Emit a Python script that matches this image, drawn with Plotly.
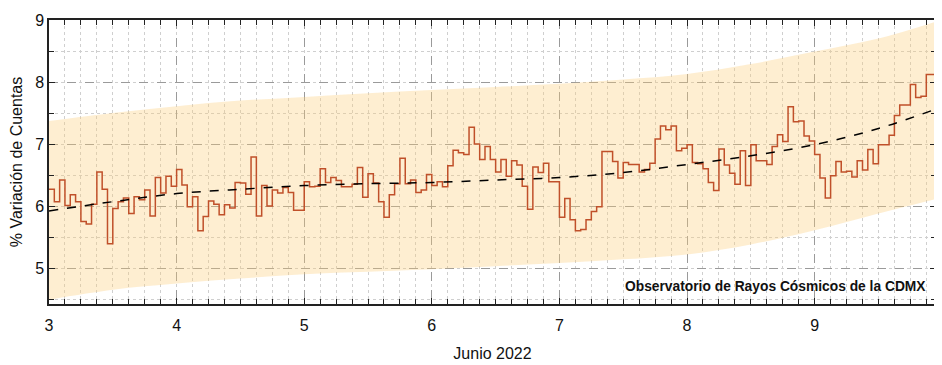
import plotly.graph_objects as go

# Hourly % variation of counts, June 3..9 2022 (24 values per day)
junio_3 = [6.27, 6.07, 6.42, 6.01, 6.18, 6.07, 5.75, 5.71, 6.03, 6.55, 6.27, 5.39,
           5.96, 6.07, 6.13, 5.88, 6.15, 6.10, 6.26, 5.84, 6.46, 6.21, 6.48, 6.32]
junio_4 = [6.59, 6.34, 5.99, 6.15, 5.60, 5.83, 6.08, 6.03, 5.86, 6.02, 5.97, 6.38,
           6.37, 6.19, 6.79, 5.84, 6.33, 6.00, 6.26, 6.21, 6.30, 6.22, 5.93, 5.93]
junio_5 = [6.39, 6.31, 6.32, 6.60, 6.38, 6.46, 6.41, 6.31, 6.31, 6.35, 6.62, 6.14,
           6.52, 6.37, 6.07, 5.82, 6.18, 6.36, 6.77, 6.36, 6.42, 6.22, 6.26, 6.51]
junio_6 = [6.33, 6.39, 6.31, 6.65, 6.90, 6.86, 6.83, 7.27, 7.00, 6.75, 6.96, 6.75,
           6.55, 6.75, 6.48, 6.73, 6.66, 6.32, 5.95, 6.63, 6.54, 6.69, 6.39, 6.39]
junio_7 = [5.82, 6.12, 5.78, 5.60, 5.62, 5.78, 5.91, 5.99, 6.88, 6.88, 6.72, 6.45,
           6.70, 6.67, 6.67, 6.55, 6.59, 6.69, 7.08, 7.29, 7.23, 7.29, 6.89, 6.93]
junio_8 = [6.99, 6.70, 6.68, 6.60, 6.38, 6.25, 6.92, 6.66, 6.53, 6.35, 6.89, 6.33,
           6.99, 6.73, 6.73, 6.67, 6.96, 7.15, 7.04, 7.60, 7.36, 7.37, 7.13, 7.05]
junio_9 = [6.83, 6.45, 6.13, 6.49, 6.72, 6.55, 6.56, 6.47, 6.73, 6.58, 6.91, 6.68,
           6.99, 6.99, 7.14, 7.46, 7.63, 7.63, 7.96, 7.75, 7.77, 8.12, 8.12, 8.12]
dias = [3, 4, 5, 6, 7, 8, 9]

# Trend curve and uncertainty band, read at half-day steps
trend_x = [3.0, 3.5, 4.0, 4.5, 5.0, 5.5, 6.0, 6.5, 7.0, 7.5, 8.0, 8.5, 9.0, 9.5, 9.96]
trend_y = [5.92, 6.07, 6.20, 6.27, 6.33, 6.36, 6.38, 6.42, 6.46, 6.54, 6.67, 6.81, 6.99, 7.25, 7.57]
band_hi = [7.37, 7.50, 7.61, 7.70, 7.76, 7.82, 7.87, 7.92, 7.97, 8.04, 8.13, 8.29, 8.49, 8.70, 8.98]
band_lo = [4.49, 4.65, 4.75, 4.83, 4.90, 4.94, 4.98, 5.03, 5.08, 5.14, 5.22, 5.38, 5.61, 5.88, 6.12]

x_ticks = [3, 4, 5, 6, 7, 8, 9]
y_ticks = [5, 6, 7, 8, 9]

series = [junio_3, junio_4, junio_5, junio_6, junio_7, junio_8, junio_9]
xs, ys = [], []
for d, vals in zip(dias, series):
    for h, v in enumerate(vals):
        xs.append(d + h / 24.0)
        ys.append(v)
xs.append(dias[-1] + 1.0)
ys.append(ys[-1])

FONT = "Liberation Sans, Arial, Helvetica, sans-serif"

fig = go.Figure()
fig.add_trace(go.Scatter(x=trend_x, y=band_lo, mode="lines", line=dict(width=0, shape="spline"),
                         hoverinfo="skip", showlegend=False))
fig.add_trace(go.Scatter(x=trend_x, y=band_hi, mode="lines", line=dict(width=0, shape="spline"),
                         fill="tonexty", fillcolor="rgba(251,205,120,0.34)",
                         hoverinfo="skip", showlegend=False))
fig.add_trace(go.Scatter(x=xs, y=ys, mode="lines", line=dict(color="#C0502A", width=1.5, shape="hv"),
                         showlegend=False))
fig.add_trace(go.Scatter(x=trend_x, y=trend_y, mode="lines",
                         line=dict(color="black", width=1.5, dash="dash", shape="spline"),
                         showlegend=False))

axis_common = dict(
    showline=True, linecolor="#222", linewidth=1.5, mirror="allticks",
    ticks="inside", ticklen=6, tickcolor="#222", tickwidth=1.2,
    showgrid=True, gridcolor="#9a9a9a", griddash="dash", gridwidth=1,
    zeroline=False, automargin=False,
    tickfont=dict(family=FONT, size=16, color="#111"),
)

# the page body adds an 8px offset; figure is sized to land the plot area where the reference has it
fig.update_layout(
    width=934, height=357,
    margin=dict(l=41, r=6, t=12, b=61),
    paper_bgcolor="white", plot_bgcolor="white",
    font=dict(family=FONT, size=16, color="#111"),
    xaxis=dict(range=[3, 9.951], tickvals=x_ticks, ticktext=[str(v) for v in x_ticks],
               ticklabelstandoff=6,
               title=dict(text="Junio 2022", font=dict(family=FONT, size=16), standoff=15),
               minor=dict(dtick=0.125, tick0=3, ticks="inside", ticklen=5, tickcolor="#222",
                          showgrid=True, gridcolor="#cfcfcf", griddash="dot", gridwidth=1),
               **axis_common),
    yaxis=dict(range=[4.42, 9], tickvals=y_ticks, ticktext=[str(v) for v in y_ticks],
               title=dict(text="% Variación de Cuentas", font=dict(family=FONT, size=16), standoff=13),
               minor=dict(dtick=0.5, tick0=5, ticks="inside", ticklen=5, tickcolor="#222",
                          showgrid=True, gridcolor="#cfcfcf", griddash="dot", gridwidth=1),
               **axis_common),
    annotations=[dict(text="<b>Observatorio de Rayos Cósmicos de la CDMX</b>",
                      xref="paper", yref="paper", x=0.991, y=0.06,
                      xanchor="right", yanchor="middle", showarrow=False,
                      font=dict(family=FONT, size=13.8, color="#111"))],
)

fig.write_html("out.html")
